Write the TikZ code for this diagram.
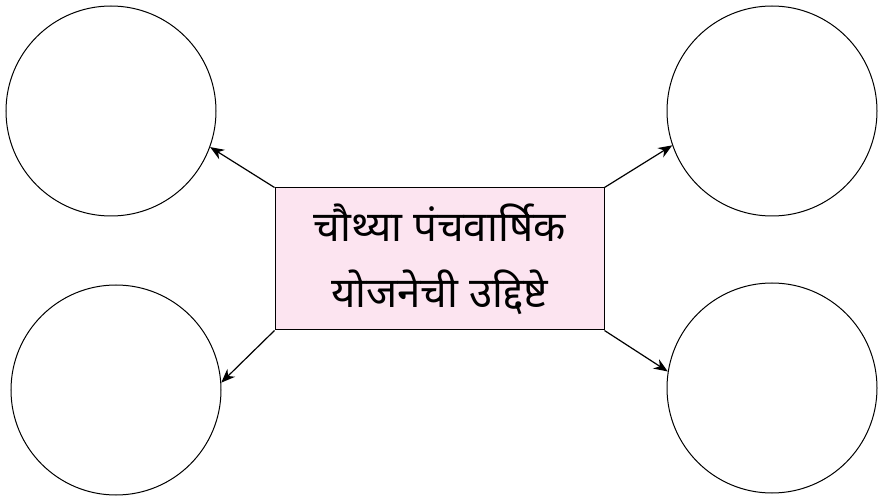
\documentclass[tikz,border=0pt]{standalone}
\usepackage{fontspec}
\newfontfamily\devfont[Script=Devanagari]{Noto Sans}
\usetikzlibrary{arrows.meta}
\definecolor{boxpink}{HTML}{FCE4F0}
\begin{document}
\begin{tikzpicture}[x=1pt,y=-1pt,
    ring/.style = {draw, circle, minimum size=210pt, inner sep=0pt, line width=1pt},
    box/.style  = {draw, fill=boxpink, minimum width=329pt, minimum height=142pt, line width=1pt,
                   align=center, font=\devfont\fontsize{42}{66}\selectfont},
    arr/.style  = {-{Stealth[length=14pt,width=11pt]}, line width=1.2pt}
                        ]
\useasboundingbox (0,0) rectangle (886,502);
\node (tl) [ring] at (111,111) {};
\node (bl) [ring] at (116,390) {};
\node (tr) [ring] at (772,111) {};
\node (br) [ring] at (772,388) {};
\node (aim) [box] at (439.5,259) {चौथ्या पंचवार्षिक\\योजनेची उद्दिष्टे};
%
\draw[arr] (aim.north west) -- (tl.-20);
\draw[arr] (aim.south west) -- (bl.4);
\draw[arr] (aim.north east) -- (tr.-161);
\draw[arr] (aim.south east) -- (br.171);
\end{tikzpicture}
\end{document}
